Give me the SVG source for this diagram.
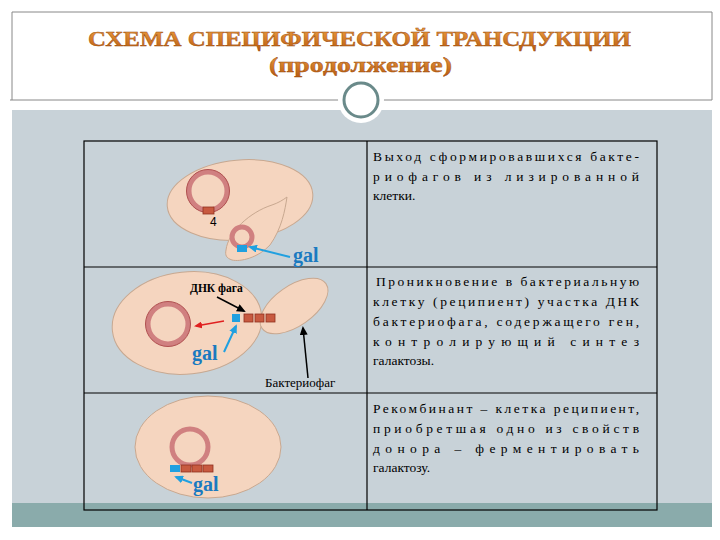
<svg xmlns="http://www.w3.org/2000/svg" width="720" height="540" viewBox="0 0 720 540">
<defs>
<linearGradient id="tg" x1="0" y1="0" x2="0" y2="1"><stop offset="0" stop-color="#f0a040"/><stop offset="1" stop-color="#b85a10"/></linearGradient>
<marker id="ab" markerUnits="userSpaceOnUse" markerWidth="9" markerHeight="8" refX="7" refY="4" orient="auto"><path d="M0,0 L9,4 L0,8 z" fill="#20a0e0"/></marker>
<marker id="ak" markerUnits="userSpaceOnUse" markerWidth="9" markerHeight="8" refX="7" refY="4" orient="auto"><path d="M0,0 L9,4 L0,8 z" fill="#000"/></marker>
<marker id="ar" markerUnits="userSpaceOnUse" markerWidth="8" markerHeight="7" refX="6" refY="3.5" orient="auto"><path d="M0,0 L8,3.5 L0,7 z" fill="#e02020"/></marker>
</defs>
<style>
.cell{fill:#f5d5bf;stroke:#c8a890;stroke-width:1}
.ring{fill:none;stroke:#d08080;stroke-width:5}
.ring2{fill:none;stroke:#b05050;stroke-width:1}
.red{fill:#c85a40;stroke:#903020;stroke-width:0.8}
.blue{fill:#20a0e0}
.gal{font-family:"Liberation Serif","DejaVu Serif",serif;font-weight:bold;font-size:20px;fill:#1a7ac0}
.t{font-family:"Liberation Serif","DejaVu Serif",serif;font-size:13.5px;fill:#000}
.ttl{font-family:"Liberation Serif","DejaVu Serif",serif;font-weight:bold;font-size:21px;fill:url(#tg);stroke:#9a4a10;stroke-width:0.4}
.grid{stroke:#000;stroke-width:1.2;fill:none}
</style>
<rect width="720" height="540" fill="#fff"/>
<line x1="12" y1="12" x2="712" y2="12" stroke="#888"/>
<line x1="12" y1="12" x2="12" y2="100" stroke="#888"/>
<line x1="712" y1="12" x2="712" y2="100" stroke="#888"/>
<rect x="12" y="110" width="700" height="393" fill="#c8d2d8"/>
<rect x="12" y="503" width="700" height="24" fill="#8aabab"/>
<line x1="10" y1="100" x2="712" y2="100" stroke="#888"/>
<circle cx="361" cy="100" r="23" fill="#fff"/>
<circle cx="361" cy="100" r="17" fill="none" stroke="#6a8a8a" stroke-width="3"/>
<text class="ttl" x="88" y="46" textLength="543" lengthAdjust="spacingAndGlyphs">СХЕМА  СПЕЦИФИЧЕСКОЙ  ТРАНСДУКЦИИ</text>
<text class="ttl" x="269" y="72" textLength="183" lengthAdjust="spacingAndGlyphs">(продолжение)</text>

<g id="table" class="grid">
<rect x="84" y="141" width="573" height="369"/>
<line x1="367" y1="141" x2="367" y2="510"/>
<line x1="84" y1="267" x2="657" y2="267"/>
<line x1="84" y1="393" x2="657" y2="393"/>
</g>

<g id="row1">
<ellipse class="cell" cx="240" cy="200" rx="73" ry="40" transform="rotate(-5 240 200)"/>
<path class="cell" d="M226,250 C228,232 250,212 272,205 C278,203 283,200 287,197 C285,210 282,228 270,245 C258,258 240,262 232,260 C226,258 225,255 226,250 Z" stroke="#555" stroke-width="1"/>
<circle class="ring" cx="208" cy="191" r="19"/>
<circle class="ring2" cx="208" cy="191" r="21.5"/>
<rect class="red" x="203" y="207" width="11" height="7"/>
<text x="210" y="226" font-family="Liberation Sans,sans-serif" font-size="12">4</text>
<circle class="ring" cx="242" cy="237" r="10" stroke-width="3"/>
<rect class="blue" x="237" y="245" width="10" height="7"/>
<line x1="290" y1="257" x2="250" y2="247" stroke="#20a0e0" stroke-width="2" marker-end="url(#ab)"/>
<text class="gal" x="293" y="262">gal</text>
<text class="t" x="373" y="161" textLength="266" lengthAdjust="spacing">Выход сформировавшихся бакте-</text>
<text class="t" x="373" y="181" textLength="266" lengthAdjust="spacing">риофагов   из   лизированной</text>
<text class="t" x="373" y="200">клетки.</text>
</g>

<g id="row2">
<ellipse class="cell" cx="187" cy="323" rx="75" ry="51" transform="rotate(-6 187 323)"/>
<ellipse class="cell" cx="294" cy="306" rx="39" ry="20" transform="rotate(-35 294 306)" stroke="#555"/>
<circle class="ring" cx="168" cy="324" r="20"/>
<circle class="ring2" cx="168" cy="324" r="22.5"/>
<rect class="blue" x="232" y="314" width="8" height="8"/>
<rect class="red" x="244" y="314" width="9" height="8"/>
<rect class="red" x="255" y="314" width="9" height="8"/>
<rect class="red" x="266" y="314" width="9" height="8"/>
<line x1="224" y1="321" x2="196" y2="326" stroke="#e02020" stroke-width="1.5" marker-end="url(#ar)"/>
<text x="190" y="292" font-family="Liberation Serif,DejaVu Serif,serif" font-weight="bold" font-size="11.5">ДНК  фага</text>
<line x1="217" y1="297" x2="244" y2="311" stroke="#000" stroke-width="1.5" marker-end="url(#ak)"/>
<text class="gal" x="192" y="360">gal</text>
<line x1="224" y1="352" x2="236" y2="326" stroke="#20a0e0" stroke-width="2" marker-end="url(#ab)"/>
<line x1="308" y1="378" x2="303" y2="328" stroke="#000" stroke-width="1.5" marker-end="url(#ak)"/>
<text x="265" y="387" font-family="Liberation Serif,DejaVu Serif,serif" font-size="13">Бактериофаг</text>
<text class="t" x="376" y="286" textLength="263" lengthAdjust="spacing">Проникновение в бактериальную</text>
<text class="t" x="373" y="306" textLength="266" lengthAdjust="spacing">клетку (реципиент) участка ДНК</text>
<text class="t" x="373" y="326" textLength="266" lengthAdjust="spacing">бактериофага, содержащего ген,</text>
<text class="t" x="373" y="346" textLength="266" lengthAdjust="spacing">контролирующий       синтез</text>
<text class="t" x="373" y="365">галактозы.</text>
</g>

<g id="row3">
<ellipse class="cell" cx="208" cy="447" rx="73" ry="51"/>
<circle class="ring" cx="190" cy="447" r="18" stroke-width="6"/>
<rect class="blue" x="170" y="465" width="10" height="7"/>
<rect class="red" x="181" y="465" width="10" height="7"/>
<rect class="red" x="192" y="465" width="10" height="7"/>
<rect class="red" x="203" y="465" width="10" height="7"/>
<line x1="192" y1="483" x2="176" y2="477" stroke="#20a0e0" stroke-width="2" marker-end="url(#ab)"/>
<text class="gal" x="193" y="491">gal</text>
<text class="t" x="373" y="413" textLength="266" lengthAdjust="spacing">Рекомбинант – клетка реципиент,</text>
<text class="t" x="373" y="433" textLength="266" lengthAdjust="spacing">приобретшая одно из свойств</text>
<text class="t" x="373" y="453" textLength="266" lengthAdjust="spacing">донора   –   ферментировать</text>
<text class="t" x="373" y="472">галактозу.</text>
</g>
</svg>
